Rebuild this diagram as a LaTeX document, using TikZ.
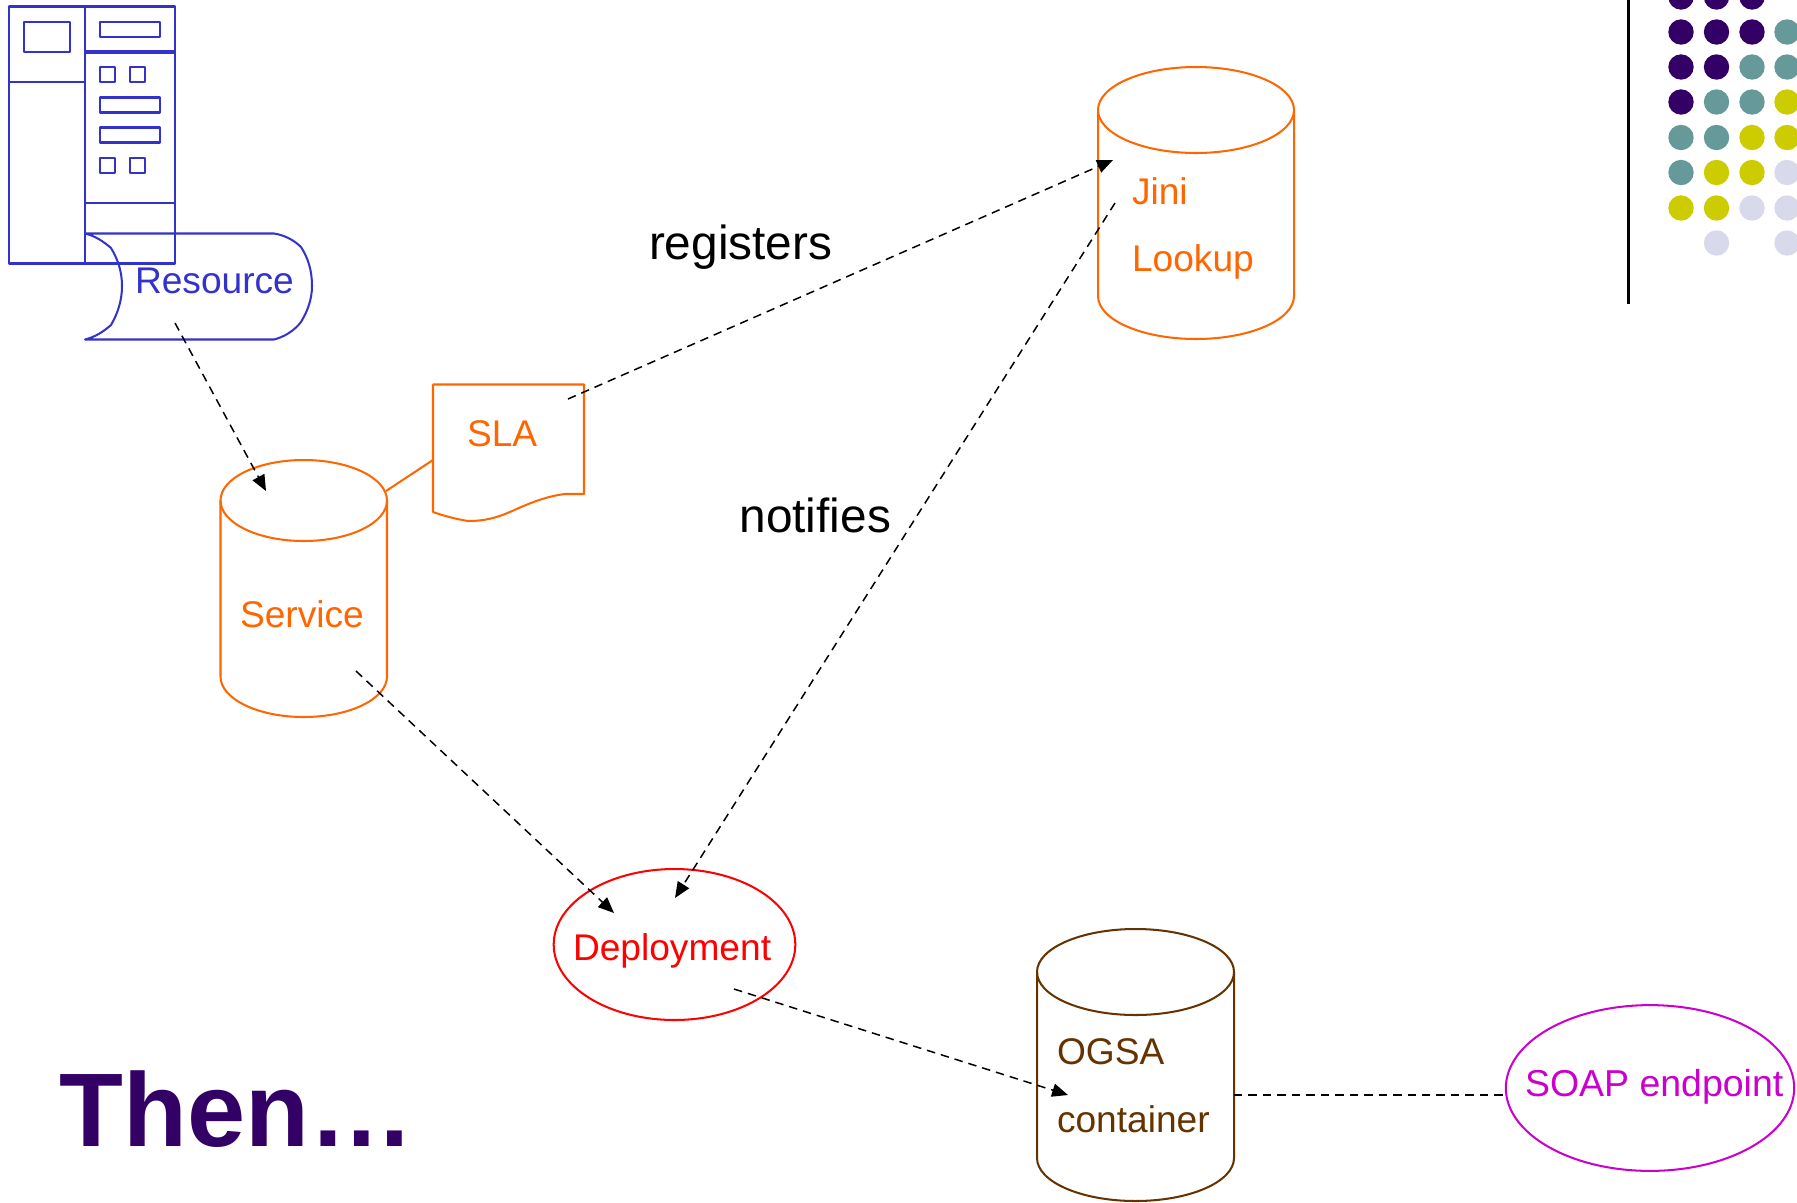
\documentclass[tikz,border=0pt]{standalone}
\usepackage{fontspec}
\setmainfont{Liberation Sans}
\usetikzlibrary{arrows.meta,shapes.geometric}
\definecolor{cblue}{HTML}{3333CC}
\definecolor{corange}{HTML}{FF6600}
\definecolor{cred}{HTML}{FF0000}
\definecolor{cbrown}{HTML}{663300}
\definecolor{cmag}{HTML}{CC00CC}
\definecolor{cpur}{HTML}{330066}
\definecolor{cteal}{HTML}{669999}
\definecolor{cyel}{HTML}{CCCC00}
\definecolor{clav}{HTML}{D9D9EC}
\tikzset{
  px/.style={x=0.567pt,y=-0.567pt},
  lbl/.style={anchor=base west,inner sep=0pt,outer sep=0pt,font=\fontsize{21.05pt}{24pt}\selectfont},
  biglbl/.style={anchor=base west,inner sep=0pt,outer sep=0pt,font=\fontsize{27.1pt}{30pt}\selectfont,text=black},
  shp/.style={line width=1.15pt,line join=round},
  ell/.style={ellipse,draw,line width=1.15pt,inner sep=0pt,outer sep=0pt},
  flow/.style={black,line width=0.85pt,dash pattern=on 4.8pt off 3.4pt},
  flowa/.style={flow,-{Triangle[length=9pt,width=7.5pt,fill=black]}},
  dot/.style={circle,fill=#1,minimum size=14.4pt,inner sep=0pt,outer sep=0pt},
}
\newcommand{\mycyl}[5]{% x1,x2,top,bottom,colour : top and bottom are extreme y
  \pgfmathsetmacro{\cx}{(#1+#2)/2}\pgfmathsetmacro{\rx}{(#2-#1)/2}
  \draw[shp,#5] (\cx,#3+\cylry) ellipse[x radius=\rx,y radius=\cylry];
  \draw[shp,#5] (#1,#3+\cylry) -- (#1,#4-\cylry) arc[start angle=180,end angle=0,x radius=\rx,y radius=\cylry] -- (#2,#3+\cylry);
}
\begin{document}
\begin{tikzpicture}[px]
\useasboundingbox (0,0) rectangle (1797,1202);
% decoration
\draw[black,line width=1.25pt] (1628.5,0) -- (1628.5,304);
\foreach \xx/\yy/\cc in {
 1681/-3/cpur,1716.5/-3/cpur,1752/-3/cpur,
 1681/32/cpur,1716.5/32/cpur,1752/32/cpur,1787/32/cteal,
 1681/67/cpur,1716.5/67/cpur,1752/67/cteal,1787/67/cteal,
 1681/102/cpur,1716.5/102/cteal,1752/102/cteal,1787/102/cyel,
 1681/137.5/cteal,1716.5/137.5/cteal,1752/137.5/cyel,1787/137.5/cyel,
 1681/172.5/cteal,1716.5/172.5/cyel,1752/172.5/cyel,1787/172.5/clav,
 1681/208/cyel,1716.5/208/cyel,1752/208/clav,1787/208/clav,
 1716.5/243/clav,1787/243/clav}
 {\node[dot=\cc] at (\xx,\yy) {};}
% server icon
\begin{scope}[cblue,shp]
\draw (9,6.5) rectangle (175,263.5);
\draw (85,6.5) -- (85,263.5);
\draw (9,82) -- (85,82);
\draw (24,22) rectangle (70,52);
\draw (100,22) rectangle (160,37);
\draw[line width=2.6pt] (85,52) -- (175,52);
\draw (100,67) rectangle (115,82);
\draw (130,67) rectangle (145,82);
\draw (100,97.5) rectangle (160,112.5);
\draw (100,127.5) rectangle (160,142.5);
\draw (100,158) rectangle (115,173);
\draw (130,158) rectangle (145,173);
\draw (85,203) -- (175,203);
\draw (85,233.5) -- (274,233.5) .. controls (284,235) and (294,240) .. (301,247)
  .. controls (308,258) and (312,270) .. (312,286)
  .. controls (312,300) and (307,312) .. (301,322)
  .. controls (294,331) and (284,337) .. (274,339.5) -- (85,339.5)
  .. controls (95,337) and (103,332) .. (111,325)
  .. controls (118,313) and (122,300) .. (122,286)
  .. controls (122,270) and (117,258) .. (111,248)
  .. controls (103,241) and (95,236) .. (85,233.5) -- cycle;
\end{scope}
\node[lbl,text=cblue] (resource) at (135,293) {Resource};
% cylinders
\def\cylry{40.5}
\mycyl{220.5}{387}{460}{717}{corange}
\def\cylry{43}
\mycyl{1098}{1294}{67}{339}{corange}
\mycyl{1037}{1234}{929}{1201}{cbrown}
\node[lbl,text=corange] (service) at (240,627) {Service};
\node[lbl,text=corange] (jini) at (1132,204) {Jini};
\node[lbl,text=corange] (lookup) at (1132,271) {Lookup};
\node[lbl,text=cbrown] (ogsa) at (1057,1064) {OGSA};
\node[lbl,text=cbrown] (container) at (1057,1132) {container};
% SLA document
\draw[shp,corange] (433,384.5) -- (584,384.5) -- (584,494) -- (565,494)
  .. controls (540,497) and (520,508) .. (505,514)
  .. controls (490,520) and (478,521) .. (468,521)
  .. controls (456,519) and (444,516) .. (433,512) -- cycle;
\node[lbl,text=corange] (sla) at (467,446) {SLA};
\coordinate (slaL) at (433,460);
\coordinate (svcR) at (386,491);
\draw[shp,corange] (svcR) -- (slaL);
% ellipses
\node[ell,cred,minimum width=137pt,minimum height=85.6pt] (deployment) at (674.5,944.5) {};
\node[lbl,text=cred] (deploytxt) at (573,960) {Deployment};
\node[ell,cmag,minimum width=163.5pt,minimum height=94pt] (soap) at (1650,1088) {};
\node[lbl,text=cmag,font=\fontsize{21.25pt}{24pt}\selectfont] (soaptxt) at (1525,1096) {SOAP endpoint};
% big labels
\node[biglbl] (registers) at (649,259.5) {registers};
\node[biglbl] (notifies) at (739.5,532) {notifies};
\node[anchor=base west,inner sep=0pt,text=cpur,font=\fontsize{59.3pt}{64pt}\selectfont\bfseries] (then) at (59,1146) {Then…};
% connector ends
\coordinate (resOut) at (175,323);
\coordinate (svcIn) at (266,491);
\coordinate (slaOut) at (568,399);
\coordinate (jiniIn) at (1113,160);
\coordinate (jiniOut) at (1115,203);
\coordinate (depIn) at (675,898);
\coordinate (svcOut) at (356,671);
\coordinate (depIn2) at (614,913);
\coordinate (depOut) at (734,989);
\coordinate (ogsaIn) at (1068,1095);
\coordinate (ogsaR) at (1234,1095);
\coordinate (soapL) at (1506,1095);
\draw[flowa] (resOut) -- (svcIn);
\draw[flowa] (slaOut) -- (jiniIn);
\draw[flowa] (jiniOut) -- (depIn);
\draw[flowa] (svcOut) -- (depIn2);
\draw[flowa] (depOut) -- (ogsaIn);
\draw[flow] (ogsaR) -- (soapL);
\end{tikzpicture}
\end{document}
